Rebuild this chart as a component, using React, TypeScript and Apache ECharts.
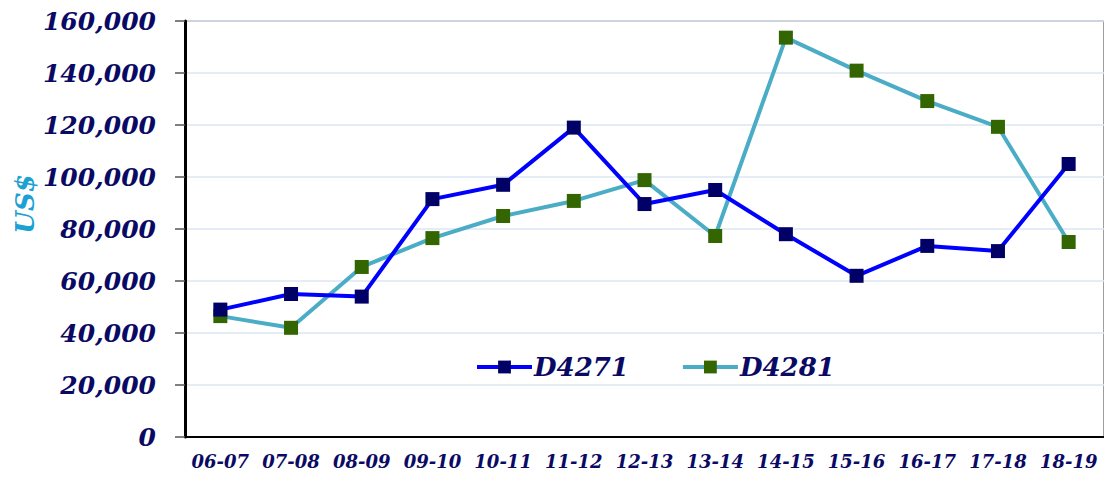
import React, { useEffect, useRef } from "react";
import * as echarts from "echarts";

const categories = ["06-07", "07-08", "08-09", "09-10", "10-11", "11-12", "12-13", "13-14", "14-15", "15-16", "16-17", "17-18", "18-19"];
const d4271 = [49000, 55000, 54000, 91500, 97000, 119000, 89600, 95000, 78000, 62000, 73500, 71500, 105000];
const d4281 = [46500, 42000, 65400, 76500, 85000, 90800, 98800, 77300, 153600, 140900, 129200, 119300, 75000];

const NAVY = "#0a0a64";
const FONT = "DejaVu Serif";

export default function App() {
  const ref = useRef<HTMLDivElement>(null);
  useEffect(() => {
    if (!ref.current) return;
    const chart = echarts.init(ref.current, undefined, { renderer: "svg" });
    chart.setOption({
      animation: false,
      backgroundColor: "#ffffff",
      grid: { left: 185, top: 21, bottom: 40, right: -4, show: true, borderColor: "#7f7f7f", borderWidth: 1.5 },
      graphic: [
        {
          type: "text",
          x: 25,
          y: 204,
          rotation: Math.PI / 2,
          style: {
            text: "US$",
            fontFamily: FONT,
            fontStyle: "italic",
            fontWeight: "bold",
            fontSize: 26,
            fill: "#1ba1d4",
            align: "center",
            verticalAlign: "middle",
          },
        },
      ],
      legend: {
        left: 470,
        top: 349,
        itemWidth: 55,
        itemHeight: 16,
        itemGap: 52,
        lineStyle: { width: 4 },
        textStyle: { fontFamily: FONT, fontStyle: "italic", fontWeight: "bold", fontSize: 26, color: NAVY, padding: [0, 0, 0, -3] },
        data: ["D4271", "D4281"],
      },
      xAxis: {
        type: "category",
        data: categories,
        axisLine: { lineStyle: { color: "#000000", width: 2 } },
        axisTick: { length: 6, lineStyle: { color: "#555555", width: 1.5 } },
        axisLabel: { interval: 0, fontFamily: FONT, fontStyle: "italic", fontWeight: "bold", fontSize: 18, color: NAVY, margin: 15 },
      },
      yAxis: {
        type: "value",
        min: 0,
        max: 160000,
        interval: 20000,
        axisLine: { show: true, lineStyle: { color: "#000000", width: 3 } },
        axisTick: { show: true, length: 10, lineStyle: { color: "#555555", width: 1.5 } },
        axisLabel: {
          fontFamily: FONT,
          fontStyle: "italic",
          fontWeight: "bold",
          fontSize: 25,
          color: NAVY,
          margin: 29,
          formatter: (v: number) => v.toLocaleString("en-US"),
        },
        splitLine: { lineStyle: { color: "#dbe6f3", width: 1.5 } },
      },
      series: [
        {
          name: "D4271",
          type: "line",
          data: d4271,
          symbol: "rect",
          symbolSize: 14,
          lineStyle: { color: "#0000ff", width: 4 },
          itemStyle: { color: "#000066" },
          z: 3,
        },
        {
          name: "D4281",
          type: "line",
          data: d4281,
          symbol: "rect",
          symbolSize: 14,
          lineStyle: { color: "#4bacc6", width: 4 },
          itemStyle: { color: "#336600" },
          z: 2,
        },
      ],
    });
    return () => chart.dispose();
  }, []);
  return <div ref={ref} style={{ position: "absolute", left: 0, top: 0, width: 1104, height: 477 }} />;
}
